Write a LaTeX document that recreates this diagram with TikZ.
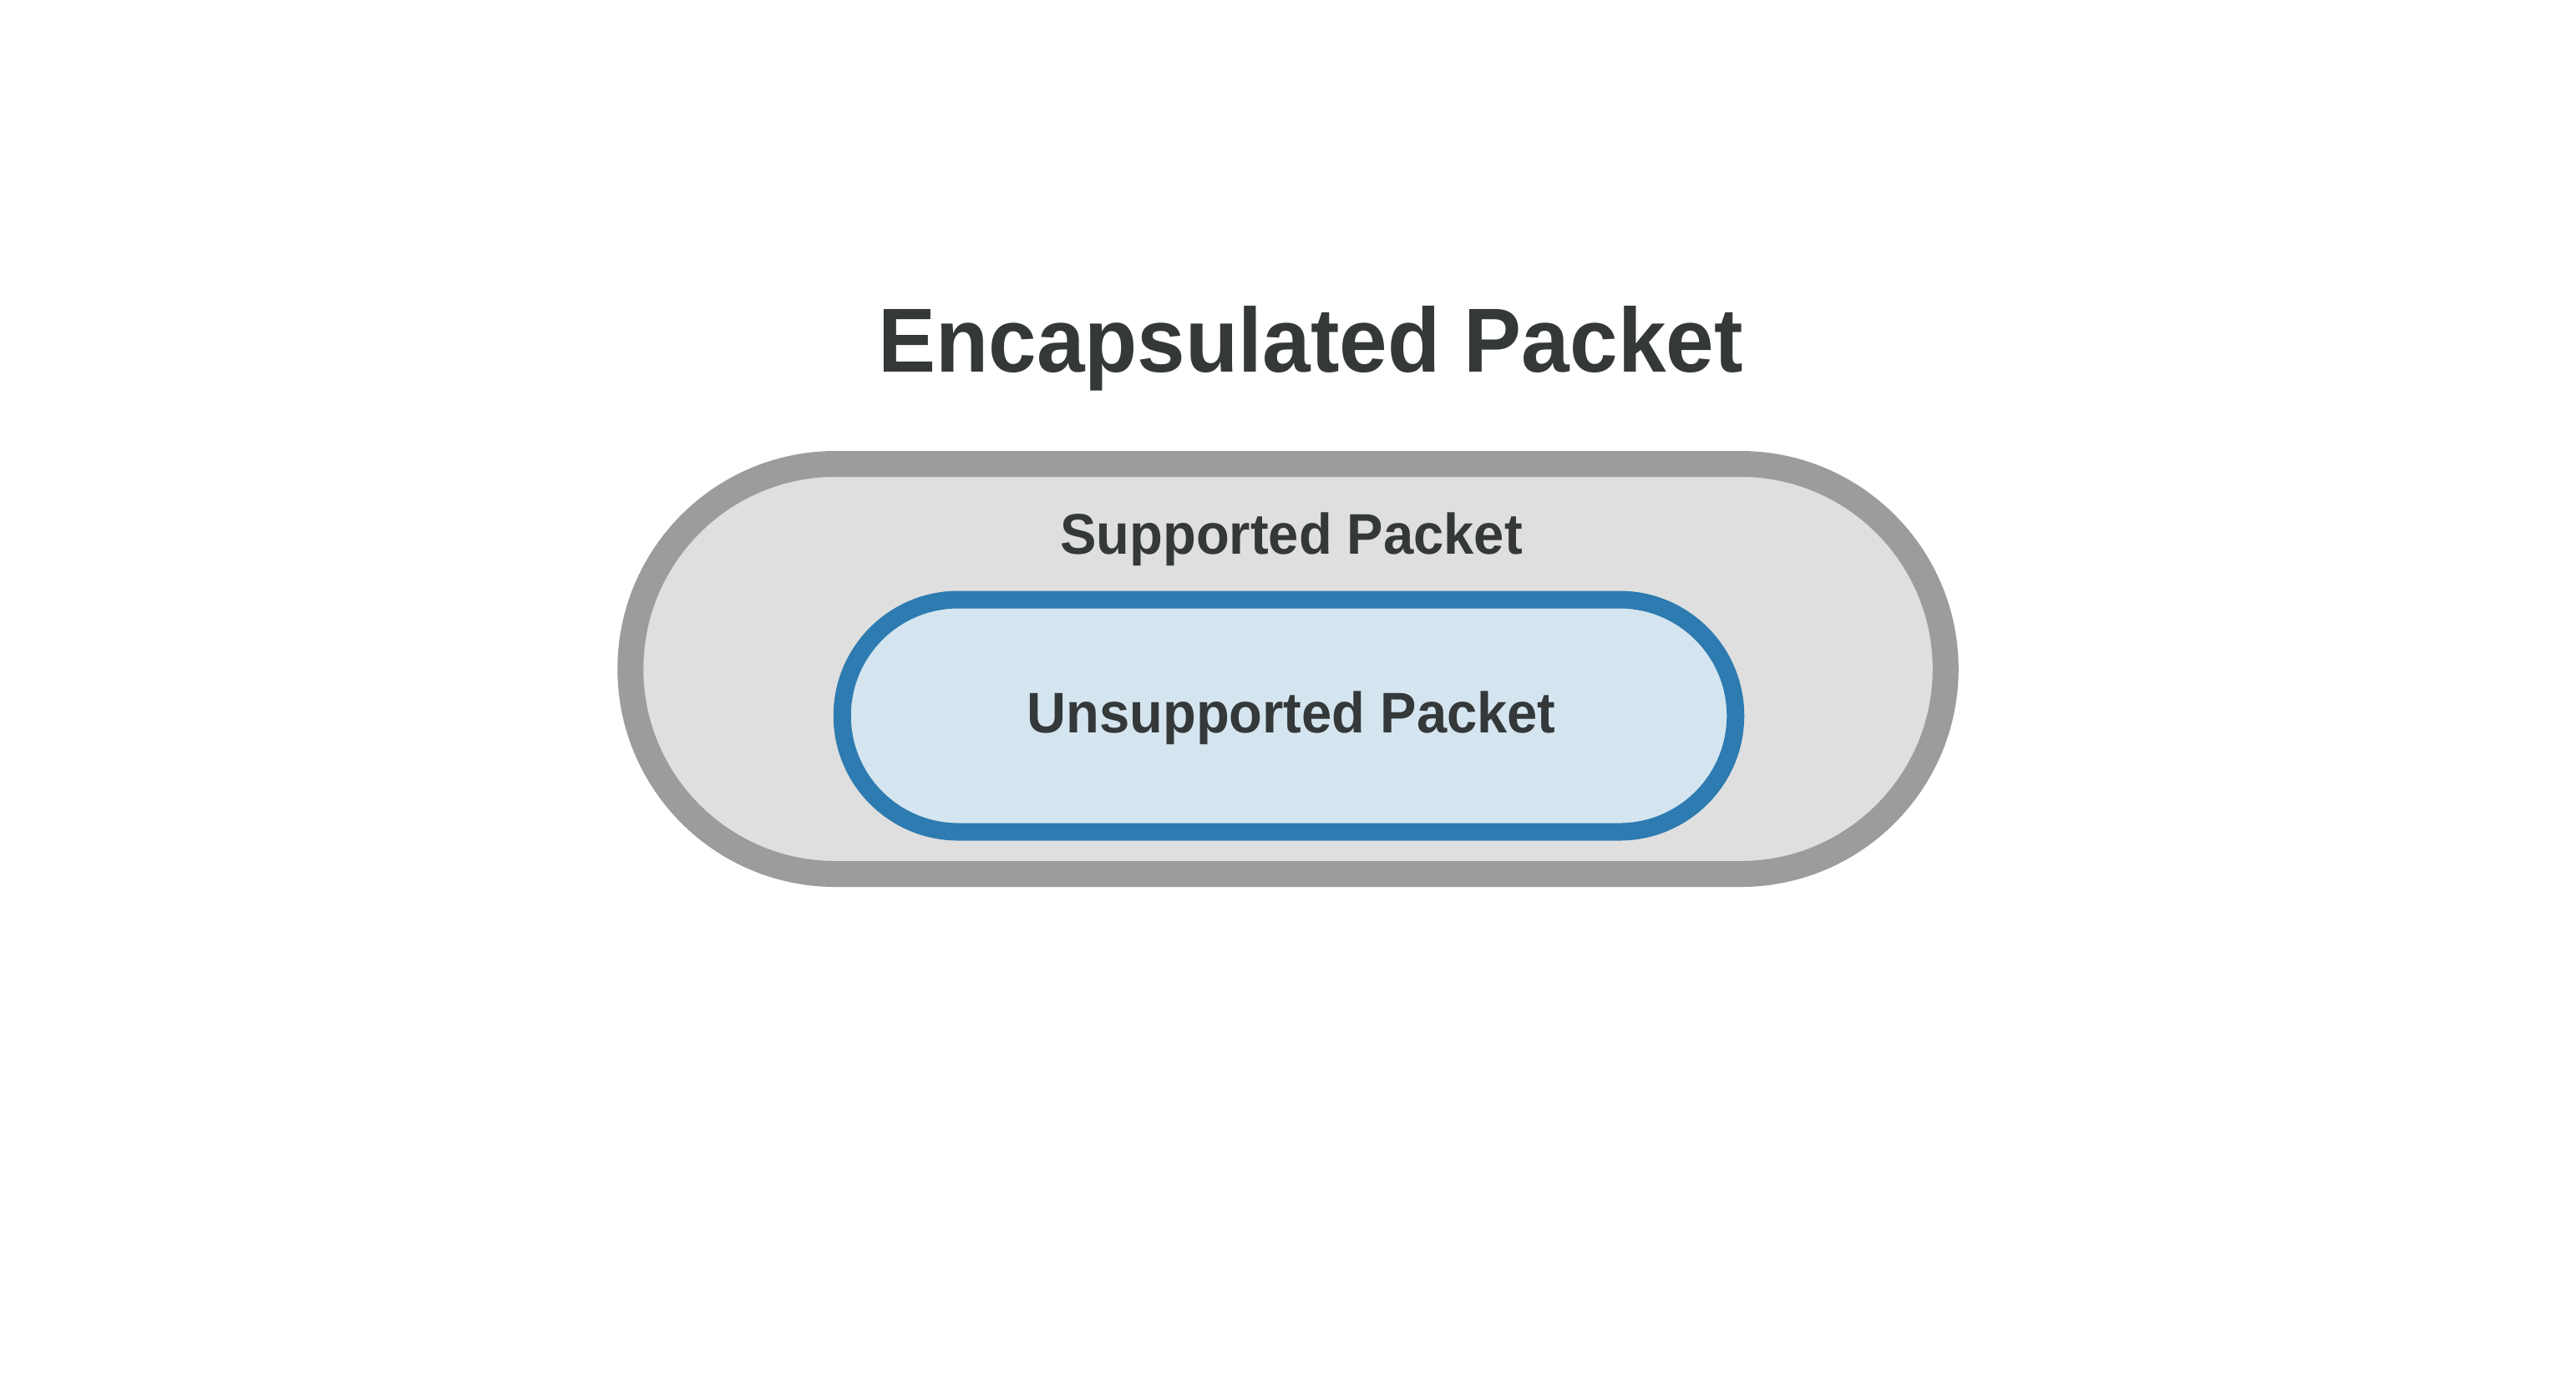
\documentclass[tikz,border=0pt]{standalone}
\usepackage{fontspec}
\setmainfont{Liberation Sans}[FakeStretch=0.95]
\definecolor{textgray}{HTML}{343839}
\definecolor{outerline}{HTML}{9B9C9B}
\definecolor{outerfill}{HTML}{DFDFDF}
\definecolor{innerline}{HTML}{2D7BB0}
\definecolor{innerfill}{HTML}{D4E5F0}
\begin{document}
\begin{tikzpicture}[
    packet/.style={rectangle, inner sep=0pt},
    caption/.style={anchor=base, text=textgray, font=\bfseries}]
            \useasboundingbox (0, 0) rectangle (30.84, -16.67);

            \node[packet, draw=outerline, fill=outerfill, line width=0.31cm, minimum width=15.745cm, minimum height=4.91cm, rounded corners=2.455cm] at (15.42, -8.01) (supported) {};
            \node[packet, draw=innerline, fill=innerfill, line width=0.21cm, minimum width=10.695cm, minimum height=2.78cm, rounded corners=1.39cm] at (15.43, -8.57) (unsupported) {};

            \node[caption, font=\fontsize{31}{36}\selectfont\bfseries] at (15.69, -4.45) (title) {Encapsulated Packet};
            \node[caption, font=\fontsize{19.5}{24}\selectfont\bfseries] at (15.46, -6.63) (supLabel) {Supported Packet};
            \node[caption, font=\fontsize{19.5}{24}\selectfont\bfseries] at (15.46, -8.77) (unsupLabel) {Unsupported Packet};
        \end{tikzpicture}
\end{document}
